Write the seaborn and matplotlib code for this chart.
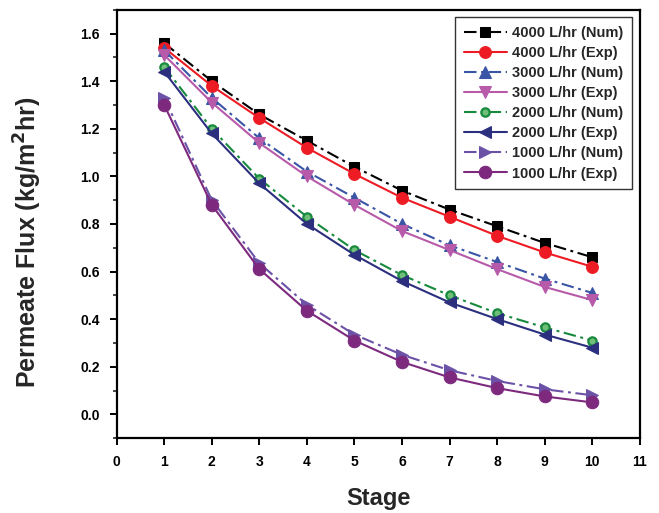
import matplotlib
matplotlib.use("Agg")
import matplotlib.pyplot as plt
from matplotlib.ticker import MultipleLocator
import numpy as np
import pandas as pd
import seaborn as sns

# Permeate flux per stage for four feed flow rates (numerical vs experimental)
stages = [1, 2, 3, 4, 5, 6, 7, 8, 9, 10]
num_4000 = [1.56, 1.40, 1.26, 1.15, 1.04, 0.94, 0.86, 0.79, 0.72, 0.66]
exp_4000 = [1.54, 1.38, 1.245, 1.12, 1.01, 0.91, 0.83, 0.75, 0.68, 0.62]
num_3000 = [1.53, 1.33, 1.16, 1.02, 0.91, 0.80, 0.71, 0.64, 0.57, 0.51]
exp_3000 = [1.51, 1.31, 1.14, 1.00, 0.88, 0.77, 0.69, 0.61, 0.535, 0.48]
num_2000 = [1.46, 1.20, 0.99, 0.83, 0.69, 0.585, 0.50, 0.425, 0.365, 0.31]
exp_2000 = [1.44, 1.18, 0.97, 0.80, 0.67, 0.56, 0.47, 0.40, 0.335, 0.28]
num_1000 = [1.33, 0.90, 0.635, 0.46, 0.335, 0.25, 0.185, 0.14, 0.105, 0.08]
exp_1000 = [1.30, 0.88, 0.61, 0.435, 0.31, 0.22, 0.155, 0.11, 0.075, 0.05]

series_labels = [
    "4000 L/hr (Num)", "4000 L/hr (Exp)",
    "3000 L/hr (Num)", "3000 L/hr (Exp)",
    "2000 L/hr (Num)", "2000 L/hr (Exp)",
    "1000 L/hr (Num)", "1000 L/hr (Exp)",
]
series_values = [num_4000, exp_4000, num_3000, exp_3000,
                 num_2000, exp_2000, num_1000, exp_1000]

# Styling for each series
colors = ["#000000", "#ed1c24", "#3a55a5", "#b75aaa",
          "#178a3e", "#2b2f7e", "#6b52a6", "#7d2a7e"]
markers = ["s", "o", "^", "v", "o", "<", ">", "o"]
msizes = [7, 8.5, 9, 9, 6, 9, 9, 9]
dashdot = (6, 2.2, 1.4, 2.2)

df = pd.concat(
    [pd.DataFrame({"Stage": stages, "Flux": vals, "Series": lab})
     for lab, vals in zip(series_labels, series_values)],
    ignore_index=True,
)

sns.set_theme(style="ticks")
plt.rcParams["font.family"] = ["Liberation Sans", "DejaVu Sans"]
plt.rcParams["font.weight"] = "bold"

fig = plt.figure(figsize=(6.59, 5.13), dpi=100)
ax = fig.add_axes([0.177, 0.146, 0.794, 0.835])

for i, lab in enumerate(series_labels):
    sub = df[df["Series"] == lab]
    is_num = "Num" in lab
    sns.lineplot(
        data=sub, x="Stage", y="Flux", ax=ax, color=colors[i],
        marker=markers[i], markersize=msizes[i],
        markeredgecolor=colors[i], markerfacecolor=colors[i],
        linewidth=1.5, label=lab, zorder=3 + i,
        **({"dashes": False} if not is_num else {}),
    )
    line = ax.lines[-1]
    if is_num:
        line.set_dashes(dashdot)
    if i == 4:
        line.set_markerfacecolor("#6fbf7a")
        line.set_markeredgewidth(1.6)

ax.set_xlim(0, 11)
ax.set_ylim(-0.1, 1.7)
ax.xaxis.set_major_locator(MultipleLocator(1))
ax.yaxis.set_minor_locator(MultipleLocator(0.1))
yt = np.arange(0, 1.61, 0.2)
ax.set_yticks(yt)
ax.set_yticklabels([f"{v:.1f}" for v in yt])
ax.set_xticks(range(0, 12))

for s in ax.spines.values():
    s.set_linewidth(1.6)
    s.set_color("black")
ax.tick_params(axis="both", which="major", direction="out", length=5, width=1.4,
               labelsize=10, colors="black", pad=7)
ax.tick_params(axis="y", which="minor", direction="out", length=3, width=1.2)
ax.tick_params(axis="x", which="minor", bottom=False)
for t in ax.get_xticklabels() + ax.get_yticklabels():
    t.set_fontweight("bold")

ax.set_xlabel("Stage", fontsize=17, fontweight="bold", labelpad=13)
ax.set_ylabel("Permeate Flux (kg/m$^\\mathbf{2}$hr)", fontsize=18,
              fontweight="bold")
ax.yaxis.set_label_coords(-0.138, 0.458)

leg = ax.legend(loc="upper right", bbox_to_anchor=(0.99, 0.99),
                frameon=True, fancybox=False, edgecolor="black",
                prop={"weight": "bold", "size": 10.5}, handlelength=3.0,
                handletextpad=0.3, labelspacing=0.42, borderpad=0.6,
                borderaxespad=0.2)
leg.get_frame().set_linewidth(1.0)

fig.savefig("out.png", dpi=100)
